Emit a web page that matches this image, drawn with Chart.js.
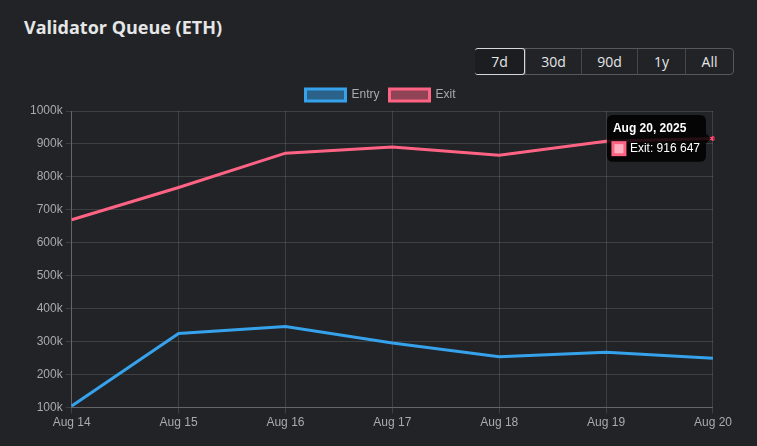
<!DOCTYPE html>
<html><head><meta charset="utf-8">
<script src="https://cdn.jsdelivr.net/npm/chart.js@4/dist/chart.umd.min.js"></script>
<style>
html,body{margin:0;padding:0;background:#212327;width:757px;height:446px;overflow:hidden;font-family:"Open Sans",Lato,sans-serif;}
#title{position:absolute;left:24px;top:15px;font-size:18px;font-weight:700;color:#e6e6e6;font-family:"Open Sans",sans-serif;}
#btns{position:absolute;left:475px;top:48px;height:25px;display:flex;border:1px solid #55585d;border-radius:4px;overflow:visible;}
#btns div{color:#e6e6e6;font-size:14px;line-height:25px;text-align:center;border-left:1px solid #45484d;font-family:"Open Sans",sans-serif;}
#btns div:first-child{border-left:none;}
#btns .act{border:1px solid #d8d8d8;border-radius:3px;margin:-1px 0 -1px -1px;background:#1b1d20;}
#wrap{position:absolute;left:27px;top:79px;width:707px;height:353px;}
</style></head><body>
<div id="title">Validator Queue (ETH)</div>
<div id="btns">
<div class="act" style="width:49px">7d</div>
<div style="width:55px">30d</div>
<div style="width:55px">90d</div>
<div style="width:47px">1y</div>
<div style="width:47px">All</div>
</div>
<div id="wrap"><canvas id="c"></canvas></div>
<script>
const categories = ["Aug 14","Aug 15","Aug 16","Aug 17","Aug 18","Aug 19","Aug 20"];
const fullDates = ["Aug 14, 2025","Aug 15, 2025","Aug 16, 2025","Aug 17, 2025","Aug 18, 2025","Aug 19, 2025","Aug 20, 2025"];
const entryValues = [105000, 325000, 346000, 296000, 254000, 268000, 250000];
const exitValues = [670000, 768000, 872000, 891000, 866000, 908000, 916647];
const yTicks = [100000,200000,300000,400000,500000,600000,700000,800000,900000,1000000];

function fmtSpace(v){return String(Math.round(v)).replace(/\B(?=(\d{3})+(?!\d))/g,' ');}

const ctx = document.getElementById('c');
const chart = new Chart(ctx, {
  type: 'line',
  data: {
    labels: categories,
    datasets: [
      {label:'Entry', data: entryValues, borderColor:'#36A2EB', backgroundColor:'rgba(54,162,235,0.5)', borderWidth:3, pointRadius:0, pointHoverRadius:2, tension:0},
      {label:'Exit', data: exitValues, borderColor:'#FF6384', backgroundColor:'rgba(255,99,132,0.5)', borderWidth:3, pointRadius:0, pointHoverRadius:2, tension:0}
    ]
  },
  options: {
    responsive:true, maintainAspectRatio:false, animation:false,
    layout:{padding:{left:0,right:0,top:0,bottom:0}},
    interaction:{mode:'nearest', intersect:false},
    plugins:{
      legend:{labels:{color:'#aaaaaa', font:{size:12, family:'"Liberation Sans", Arial, sans-serif'}, boxWidth:40, boxHeight:12}},
      tooltip:{
        backgroundColor:'rgba(0,0,0,0.85)', titleColor:'#fff', bodyColor:'#fff',
        titleFont:{size:12, weight:'bold', family:'"Liberation Sans", Arial, sans-serif'},
        bodyFont:{size:12, family:'"Liberation Sans", Arial, sans-serif'},
        padding:6, caretSize:5, cornerRadius:6, boxPadding:3,
        callbacks:{
          title:(items)=>fullDates[items[0].dataIndex],
          label:(item)=>item.dataset.label+': '+fmtSpace(item.raw)
        }
      }
    },
    scales:{
      x:{
        grid:{color:'rgba(255,255,255,0.13)', drawTicks:true, tickLength:6},
        border:{color:'rgba(255,255,255,0.2)'},
        ticks:{color:'#aaaaaa', font:{size:12, family:'"Liberation Sans", Arial, sans-serif'}, maxRotation:0, padding:2}
      },
      y:{
        min:100000, max:1000000,
        afterBuildTicks:(axis)=>{axis.ticks = yTicks.map(v=>({value:v}));},
        grid:{color:'rgba(255,255,255,0.13)', tickLength:6},
        border:{color:'rgba(255,255,255,0.2)'},
        ticks:{color:'#aaaaaa', font:{size:12, family:'"Liberation Sans", Arial, sans-serif'}, padding:3, callback:(v)=>(v/1000)+'k'}
      }
    }
  }
});
const meta = chart.getDatasetMeta(1);
const pt = meta.data[6];
chart.setActiveElements([{datasetIndex:1,index:6}]);
chart.tooltip.setActiveElements([{datasetIndex:1,index:6}], {x:pt.x, y:pt.y});
chart.update();
</script>
</body></html>
